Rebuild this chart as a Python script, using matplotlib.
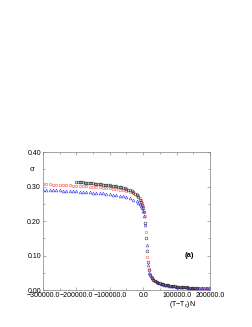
import matplotlib
matplotlib.use("Agg")
import matplotlib.pyplot as plt
from matplotlib.ticker import MultipleLocator, FormatStrFormatter

plt.rcParams['font.family'] = ['Liberation Sans', 'DejaVu Sans']

# ---- data ----
black_x = list(range(-200000, -5000, 5000)) + [-6000, -3000, 0, 3000, 6000, 9000, 12000, 15000, 18000, 21000] + list(range(25000, 165000, 5000))
black_y = [0.3140, 0.3135, 0.3130, 0.3125, 0.3120, 0.3115, 0.3110, 0.3105, 0.3100, 0.3095,
           0.3090, 0.3085, 0.3080, 0.3075, 0.3070, 0.3064, 0.3058, 0.3052, 0.3046, 0.3040,
           0.3033, 0.3026, 0.3019, 0.3011, 0.3003, 0.2994, 0.2984, 0.2973, 0.2961, 0.2947,
           0.2931, 0.2912, 0.2890, 0.2864, 0.2833, 0.2795, 0.2748, 0.2690, 0.2620,
           0.2540, 0.2460, 0.2380, 0.2270, 0.1950, 0.1500, 0.1130, 0.0800, 0.0580, 0.0450,
           0.0360, 0.0300, 0.0262, 0.0234, 0.0212, 0.0194, 0.0178, 0.0165, 0.0153, 0.0143,
           0.0134, 0.0126, 0.0119, 0.0112, 0.0106, 0.0101, 0.0096, 0.0091, 0.0087, 0.0083,
           0.0079, 0.0076, 0.0073, 0.0070, 0.0067, 0.0064, 0.0062, 0.0060]

red_x = list(range(-300000, -10000, 10000)) + [-15000, -10000, -6000, -3000, 0, 4000, 8000, 12000, 16000] + list(range(20000, 205000, 5000))
red_y = [0.3070, 0.3066, 0.3062, 0.3058, 0.3054, 0.3050, 0.3045, 0.3040, 0.3035, 0.3030,
         0.3025, 0.3019, 0.3013, 0.3007, 0.3001, 0.2994, 0.2987, 0.2979, 0.2970, 0.2961,
         0.2951, 0.2940, 0.2927, 0.2913, 0.2896, 0.2876, 0.2851, 0.2818, 0.2770,
         0.2735, 0.2680, 0.2610, 0.2530, 0.2440, 0.2150, 0.1690, 0.0970, 0.0600,
         0.0460, 0.0375, 0.0315, 0.0272, 0.0242, 0.0217, 0.0197, 0.0180, 0.0166, 0.0154,
         0.0143, 0.0134, 0.0126, 0.0118, 0.0111, 0.0105, 0.0100, 0.0095, 0.0090, 0.0086,
         0.0082, 0.0078, 0.0075, 0.0072, 0.0069, 0.0066, 0.0064, 0.0062, 0.0060, 0.0058,
         0.0056, 0.0054, 0.0052, 0.0050, 0.0049, 0.0047, 0.0046]

blue_x = list(range(-300000, -10000, 10000)) + [-15000, -10000, -6000, -3000, 0, 3000, 6000, 10000, 14000, 18000] + list(range(22000, 205000, 5000))
blue_y = [0.2910, 0.2906, 0.2902, 0.2898, 0.2894, 0.2889, 0.2884, 0.2879, 0.2874, 0.2868,
          0.2862, 0.2856, 0.2849, 0.2842, 0.2835, 0.2827, 0.2819, 0.2810, 0.2800, 0.2789,
          0.2777, 0.2764, 0.2749, 0.2732, 0.2712, 0.2688, 0.2658, 0.2620, 0.2570,
          0.2535, 0.2490, 0.2430, 0.2370, 0.2300, 0.2150, 0.1880, 0.1300, 0.0720, 0.0500,
          0.0410, 0.0345, 0.0295, 0.0259, 0.0231, 0.0208, 0.0189, 0.0173, 0.0160, 0.0148,
          0.0138, 0.0129, 0.0121, 0.0114, 0.0108, 0.0102, 0.0097, 0.0092, 0.0088, 0.0084,
          0.0080, 0.0077, 0.0074, 0.0071, 0.0068, 0.0065, 0.0063, 0.0061, 0.0059, 0.0057,
          0.0055, 0.0053, 0.0051, 0.0050, 0.0048, 0.0047]

xticks = [-300000.0, -200000.0, -100000.0, 0.0, 100000.0, 200000.0]
yticks = [0.00, 0.10, 0.20, 0.30, 0.40]

n = min(len(black_x), len(black_y)); black_x, black_y = black_x[:n], black_y[:n]
n = min(len(red_x), len(red_y)); red_x, red_y = red_x[:n], red_y[:n]
n = min(len(blue_x), len(blue_y)); blue_x, blue_y = blue_x[:n], blue_y[:n]

fig = plt.figure(figsize=(2.53, 3.27), dpi=100)
ax = fig.add_axes([0.170, 0.113, 0.660, 0.422])

ms = 2.0
ax.plot(red_x, red_y, ls='none', marker='s', ms=ms, mfc='none', mec='#ff5a5a', mew=0.4)
ax.plot(blue_x, blue_y, ls='none', marker='^', ms=ms, mfc='none', mec='#3a3aff', mew=0.4)
ax.plot(black_x, black_y, ls='none', marker='o', ms=ms, mfc='none', mec='#303030', mew=0.4)

ax.set_xlim(-300000, 200000)
ax.set_ylim(0.0, 0.40)
ax.set_xticks(xticks)
ax.set_yticks(yticks)
ax.xaxis.set_major_formatter(FormatStrFormatter('%.1f'))
ax.yaxis.set_major_formatter(FormatStrFormatter('%.2f'))
ax.xaxis.set_minor_locator(MultipleLocator(50000))
ax.yaxis.set_minor_locator(MultipleLocator(0.05))
ax.set_xticklabels(['\u2212300000.0', '\u2212200000.0', '\u2212100000.0', '0.0', '100000.0', '200000.0'])

ax.tick_params(which='both', direction='in', top=True, right=True, labelsize=5, width=0.4, color='#707070', pad=1.5)
ax.tick_params(which='major', length=2.5)
ax.tick_params(which='minor', length=1.5)
for s in ax.spines.values():
    s.set_linewidth(0.5)
    s.set_color('#808080')

ax.text(125000, 0.10, '(a)', fontsize=5.5, fontweight='bold', ha='left', va='center')
fig.text(32 / 253, 1 - 169 / 327, '\u03c3', fontsize=5.5, ha='center', va='center')
fig.text(182 / 253, 1 - 304 / 327, '(T\u2212T$_{\\mathrm{c}}$)N', fontsize=5, ha='center', va='center')

fig.savefig('out.png', dpi=100)
